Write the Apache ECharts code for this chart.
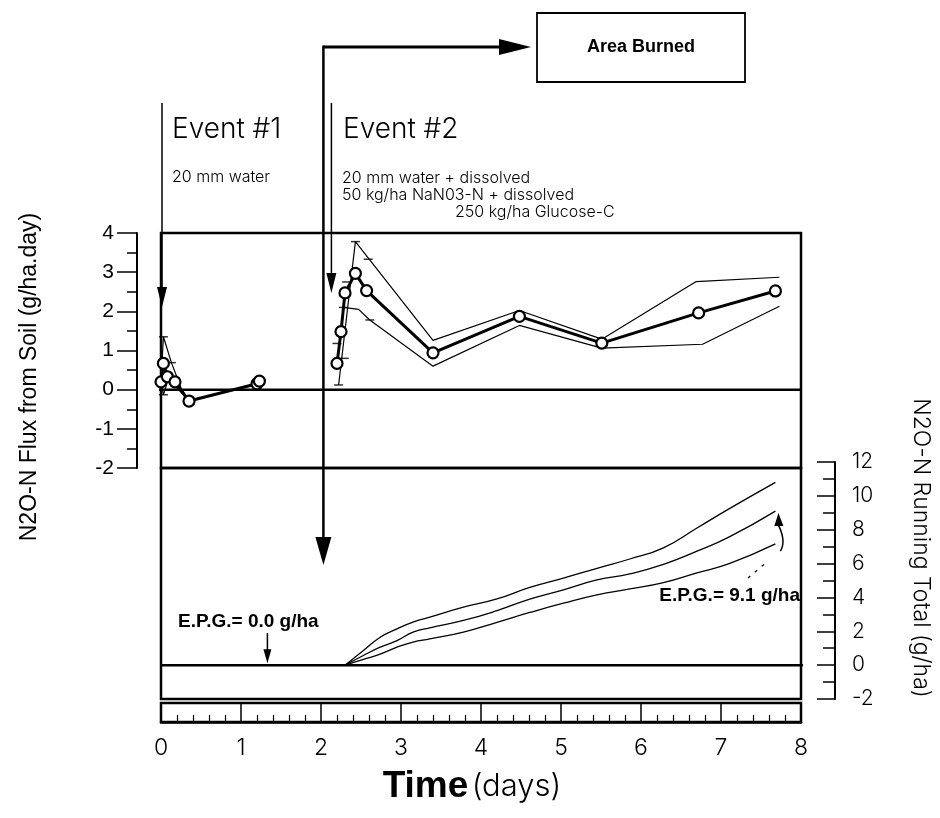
<!DOCTYPE html>
<html>
<head>
<meta charset="utf-8">
<title>N2O-N flux and running total</title>
<script src="https://cdn.jsdelivr.net/npm/echarts@6/dist/echarts.min.js"></script>
<style>
  html, body { margin: 0; padding: 0; background: #fff; }
  #chart { width: 940px; height: 818px; }
</style>
</head>
<body>
<div id="chart"></div>
<script>
// ---- Event #1: N2O-N flux (g/ha.day) ----
const ev1Days      = [0, 0.03, 0.08, 0.175, 0.35, 1.20, 1.23];
const ev1Flux      = [0.20, 0.67, 0.33, 0.20, -0.29, 0.15, 0.22];
const ev1UpperDays = [0, 0.03, 0.13, 0.25, 0.35];
const ev1Upper     = [0.20, 1.35, 0.69, 0.05, -0.29];
const ev1LowerDays = [0, 0.03, 0.08, 0.175, 0.35];
const ev1Lower     = [0.20, -0.13, 0.20, 0.10, -0.29];
const ev1CapDays   = [0.03, 0.13, 0.03];
const ev1CapVals   = [1.35, 0.69, -0.13];

// ---- Event #2: N2O-N flux (g/ha.day) ----
const ev2Days      = [2.20, 2.25, 2.30, 2.43, 2.57, 3.40, 4.48, 5.51, 6.72, 7.68];
const ev2Flux      = [0.67, 1.48, 2.47, 2.97, 2.53, 0.94, 1.87, 1.19, 1.96, 2.52];
const ev2UpperDays = [2.22, 2.43, 3.40, 4.48, 5.51, 6.69, 7.73];
const ev2Upper     = [0.12, 3.78, 1.26, 2.02, 1.29, 2.76, 2.87];
const ev2LowerDays = [2.28, 2.47, 2.61, 3.40, 4.48, 5.51, 6.77, 7.73];
const ev2Lower     = [2.10, 2.05, 1.78, 0.60, 1.64, 1.06, 1.16, 2.13];
const ev2CapDays   = [2.22, 2.20, 2.29, 2.28, 2.32, 2.43, 2.59, 2.61];
const ev2CapVals   = [0.12, 1.18, 0.80, 2.10, 2.75, 3.78, 3.33, 1.78];

// ---- N2O-N running total (g/ha), after the Event #2 onset ----
const totalDays  = [2.30, 2.53, 2.74, 2.95, 3.15, 3.36, 3.78, 4.20, 4.61, 5.03, 5.45, 5.86, 6.28, 6.70, 7.11, 7.68];
const totalHigh  = [0, 0.86, 1.65, 2.14, 2.54, 2.83, 3.42, 3.91, 4.59, 5.14, 5.72, 6.27, 6.93, 8.10, 9.26, 10.80];
const totalMean  = [0, 0.57, 1.06, 1.45, 1.95, 2.20, 2.64, 3.22, 3.90, 4.45, 5.03, 5.39, 5.95, 6.73, 7.59, 9.1];
const totalLow   = [0, 0.34, 0.65, 1.06, 1.36, 1.55, 1.95, 2.53, 3.11, 3.66, 4.15, 4.50, 4.87, 5.45, 6.01, 7.16];

// Estimated production (g/ha) stated for each event
const epgEvent1 = 0.0;
const epgEvent2 = totalMean[totalMean.length - 1];

// Event markers (days)
const event1Day = 0;
const event2Day = 2.13;
const burnDay   = 2.03;

// Axis tick ranges
const fluxTicks  = { min: -2, max: 4, step: 1 };
const totalTicks = { min: -2, max: 12, step: 2 };
const dayTicks   = { min: 0, max: 8, step: 1 };

const INK  = '#000';
const HAND = '"Inter", "Lato", "Open Sans", "DejaVu Sans", sans-serif';
const SANS = '"Liberation Sans", Arial, Helvetica, sans-serif';

const pairs = (xs, ys) => xs.map((x, i) => [x, ys[i]]);

const chart = echarts.init(document.getElementById('chart'), null, { renderer: 'canvas' });

const thin  = { color: INK, width: 1.2 };
const noSym = { showSymbol: false, symbol: 'none' };

const option = {
  animation: false,
  backgroundColor: '#fff',
  grid: [
    { left: 161, top: 233, width: 640, height: 235, show: true, borderColor: INK, borderWidth: 2.5 },
    { left: 161, top: 462, width: 640, height: 237 },
    { left: 161, top: 468, width: 640, height: 231, show: true, borderColor: INK, borderWidth: 2.5 },
    { left: 161, top: 703, width: 640, height: 19, show: true, borderColor: INK, borderWidth: 2.5 }
  ],
  xAxis: [
    { gridIndex: 0, type: 'value', min: dayTicks.min, max: dayTicks.max, show: false },
    { gridIndex: 1, type: 'value', min: dayTicks.min, max: dayTicks.max, show: false },
    { gridIndex: 2, type: 'value', min: dayTicks.min, max: dayTicks.max, show: false },
    {
      gridIndex: 3, type: 'value', min: dayTicks.min, max: dayTicks.max, interval: dayTicks.step,
      position: 'bottom',
      axisLine: { show: true, onZero: false, lineStyle: { color: INK, width: 2.5 } },
      axisTick: { show: true, inside: true, length: 19, lineStyle: { color: INK, width: 1.5 } },
      minorTick: { show: true, splitNumber: 5, length: 7, lineStyle: { color: INK, width: 1.2 } },
      splitLine: { show: false },
      axisLabel: { margin: 15, fontSize: 23, fontFamily: HAND, fontWeight: 300, color: INK }
    }
  ],
  yAxis: [
    {
      gridIndex: 0, type: 'value', position: 'left', offset: 24,
      min: fluxTicks.min, max: fluxTicks.max, interval: fluxTicks.step,
      axisLine: { show: true, onZero: false, lineStyle: { color: INK, width: 2 } },
      axisTick: { show: true, inside: false, length: 20, lineStyle: { color: INK, width: 1.5 } },
      minorTick: { show: true, splitNumber: 2, length: 10, lineStyle: { color: INK, width: 1.5 } },
      splitLine: { show: false },
      axisLabel: { margin: 23, fontSize: 21, fontFamily: SANS, color: INK }
    },
    {
      gridIndex: 1, type: 'value', position: 'right', offset: 34,
      min: totalTicks.min, max: totalTicks.max, interval: totalTicks.step,
      axisLine: { show: true, onZero: false, lineStyle: { color: INK, width: 2 } },
      axisTick: { show: true, inside: true, length: 18, lineStyle: { color: INK, width: 1.5 } },
      minorTick: { show: true, splitNumber: 2, length: 12, lineStyle: { color: INK, width: 1.5 } },
      splitLine: { show: false },
      axisLabel: { margin: 17, fontSize: 21, fontFamily: HAND, fontWeight: 300, color: INK }
    },
    { gridIndex: 2, type: 'value', min: 0, max: 1, show: false },
    { gridIndex: 3, type: 'value', min: 0, max: 1, show: false }
  ],
  series: [
    // zero reference lines (extend past the frames onto the axis rulers)
    { type: 'line', xAxisIndex: 0, yAxisIndex: 0, clip: false, ...noSym, silent: true,
      data: [[-0.62, 0], [8, 0]], lineStyle: { color: INK, width: 2.5 } },
    { type: 'line', xAxisIndex: 1, yAxisIndex: 1, clip: false, ...noSym, silent: true,
      data: [[0, 0], [8.6, 0]], lineStyle: { color: INK, width: 2.5 } },

    // Event #1 spread and mean
    { name: 'ev1 upper', type: 'line', xAxisIndex: 0, yAxisIndex: 0, ...noSym,
      data: pairs(ev1UpperDays, ev1Upper), lineStyle: thin },
    { name: 'ev1 lower', type: 'line', xAxisIndex: 0, yAxisIndex: 0, ...noSym,
      data: pairs(ev1LowerDays, ev1Lower), lineStyle: thin },
    { name: 'ev1 caps', type: 'scatter', xAxisIndex: 0, yAxisIndex: 0,
      data: pairs(ev1CapDays, ev1CapVals), symbol: 'rect', symbolSize: [9, 1.5],
      itemStyle: { color: INK } },
    { name: 'ev1 mean', type: 'line', xAxisIndex: 0, yAxisIndex: 0,
      data: pairs(ev1Days, ev1Flux), symbol: 'circle', symbolSize: 11, showSymbol: true,
      lineStyle: { color: INK, width: 3 },
      itemStyle: { color: '#fff', borderColor: INK, borderWidth: 2.2 } },

    // Event #2 spread and mean
    { name: 'ev2 upper', type: 'line', xAxisIndex: 0, yAxisIndex: 0, ...noSym,
      data: pairs(ev2UpperDays, ev2Upper), lineStyle: thin },
    { name: 'ev2 lower', type: 'line', xAxisIndex: 0, yAxisIndex: 0, ...noSym,
      data: pairs(ev2LowerDays, ev2Lower), lineStyle: thin },
    { name: 'ev2 caps', type: 'scatter', xAxisIndex: 0, yAxisIndex: 0,
      data: pairs(ev2CapDays, ev2CapVals), symbol: 'rect', symbolSize: [9, 1.5],
      itemStyle: { color: INK } },
    { name: 'ev2 mean', type: 'line', xAxisIndex: 0, yAxisIndex: 0,
      data: pairs(ev2Days, ev2Flux), symbol: 'circle', symbolSize: 11, showSymbol: true,
      lineStyle: { color: INK, width: 3 },
      itemStyle: { color: '#fff', borderColor: INK, borderWidth: 2.2 } },

    // Running totals
    { name: 'total high', type: 'line', xAxisIndex: 1, yAxisIndex: 1, ...noSym,
      smooth: 0.5, data: pairs(totalDays, totalHigh), lineStyle: { color: INK, width: 1.3 } },
    { name: 'total mean', type: 'line', xAxisIndex: 1, yAxisIndex: 1, ...noSym,
      smooth: 0.5, data: pairs(totalDays, totalMean), lineStyle: { color: INK, width: 1.3 } },
    { name: 'total low', type: 'line', xAxisIndex: 1, yAxisIndex: 1, ...noSym,
      smooth: 0.5, data: pairs(totalDays, totalLow), lineStyle: { color: INK, width: 1.3 } }
  ]
};

chart.setOption(option);

// ---- annotations placed from the axes' own scales ----
const px = (grid, pt) => chart.convertToPixel({ gridIndex: grid }, pt);

function downArrow(x, yTop, yTip, w, h, lw) {
  return [
    { type: 'line', shape: { x1: x, y1: yTop, x2: x, y2: yTip - h + 2 }, style: { stroke: INK, lineWidth: lw } },
    { type: 'polygon', shape: { points: [[x - w / 2, yTip - h], [x + w / 2, yTip - h], [x, yTip]] }, style: { fill: INK } }
  ];
}

const e1x = px(0, [event1Day, 0])[0] + 1;
const e2x = px(0, [event2Day, 0])[0];
const bx  = px(0, [burnDay, 0])[0];
const zeroTotalY = px(1, [0, 0])[1];
const epg1Pt = px(1, [1.33, 0]);
const epg2End = px(1, [totalDays[totalDays.length - 1], epgEvent2]);

const burnTopY = 47;
const graphics = [];

// "Area Burned" box with its connector arrows
graphics.push({ type: 'rect', shape: { x: 537, y: 13, width: 208, height: 69 },
  style: { fill: '#fff', stroke: INK, lineWidth: 1.8 } });
graphics.push({ type: 'text', x: 641, y: 47,
  style: { text: 'Area Burned', font: 'bold 18px ' + SANS, fill: INK, align: 'center', verticalAlign: 'middle' } });
graphics.push({ type: 'line', shape: { x1: bx, y1: burnTopY, x2: 512, y2: burnTopY }, style: { stroke: INK, lineWidth: 3 } });
graphics.push({ type: 'polygon', shape: { points: [[499, burnTopY - 8], [499, burnTopY + 8], [531, burnTopY]] }, style: { fill: INK } });
graphics.push(...downArrow(bx, burnTopY - 1.5, 565, 16, 28, 2.5));

// Event markers
graphics.push(...downArrow(e1x, 103, 307, 10, 20, 1.5));
graphics.push(...downArrow(e2x, 103, 293, 10, 20, 1.5));

graphics.push({ type: 'text', x: 172, y: 130,
  style: { text: 'Event #1', font: '300 28px ' + HAND, fill: INK, align: 'left', verticalAlign: 'middle' } });
graphics.push({ type: 'text', x: 172, y: 177,
  style: { text: '20 mm water', font: '300 16px ' + HAND, fill: INK, align: 'left', verticalAlign: 'middle' } });
graphics.push({ type: 'text', x: 343, y: 130,
  style: { text: 'Event #2', font: '300 28px ' + HAND, fill: INK, align: 'left', verticalAlign: 'middle' } });
graphics.push({ type: 'text', x: 342, y: 178,
  style: { text: '20 mm water + dissolved', font: '300 16px ' + HAND, fill: INK, align: 'left', verticalAlign: 'middle' } });
graphics.push({ type: 'text', x: 342, y: 195,
  style: { text: '50 kg/ha NaN03-N + dissolved', font: '300 16px ' + HAND, fill: INK, align: 'left', verticalAlign: 'middle' } });
graphics.push({ type: 'text', x: 455, y: 212,
  style: { text: '250 kg/ha Glucose-C', font: '300 16px ' + HAND, fill: INK, align: 'left', verticalAlign: 'middle' } });

// Axis titles
graphics.push({ type: 'text', x: 30, y: 377, rotation: Math.PI / 2,
  style: { text: 'N2O-N Flux from Soil (g/ha.day)', font: '23px ' + SANS, fill: INK, align: 'center', verticalAlign: 'middle' } });
graphics.push({ type: 'text', x: 921, y: 548, rotation: -Math.PI / 2,
  style: { text: 'N2O-N Running Total (g/ha)', font: '300 23px ' + HAND, fill: INK, align: 'center', verticalAlign: 'middle' } });
graphics.push({ type: 'text', x: 472, y: 787,
  style: {
    text: '{b|Time} {n|(days)}', align: 'center', verticalAlign: 'middle', fill: INK,
    rich: {
      b: { font: 'bold 37px ' + SANS, fill: INK },
      n: { font: '300 31px ' + HAND, fill: INK }
    }
  } });

// E.P.G. labels
graphics.push({ type: 'text', x: 178, y: 622,
  style: { text: 'E.P.G.= ' + epgEvent1.toFixed(1) + ' g/ha', font: 'bold 19px ' + SANS, fill: INK, align: 'left', verticalAlign: 'middle' } });
graphics.push(...downArrow(epg1Pt[0], 633, zeroTotalY - 2, 8, 14, 1.5));

graphics.push({ type: 'text', x: 800, y: 596,
  style: { text: 'E.P.G.= ' + epgEvent2.toFixed(1) + ' g/ha', font: 'bold 19px ' + SANS, fill: INK, align: 'right', verticalAlign: 'middle' } });
const tipX = epg2End[0] + 3, tipY = epg2End[1] + 2;
graphics.push({ type: 'bezierCurve',
  shape: { x1: tipX + 2, y1: tipY + 38, x2: tipX, y2: tipY + 12, cpx1: tipX + 8, cpy1: tipY + 28 },
  style: { stroke: INK, lineWidth: 1.5, fill: null } });
graphics.push({ type: 'polygon', shape: { points: [[tipX - 4, tipY + 13], [tipX + 5, tipY + 13], [tipX, tipY]] }, style: { fill: INK } });
graphics.push({ type: 'line', shape: { x1: 748, y1: 578, x2: 768, y2: 561 },
  style: { stroke: INK, lineWidth: 1.3, lineDash: [3, 6] } });

chart.setOption({ graphic: graphics });
</script>
</body>
</html>
